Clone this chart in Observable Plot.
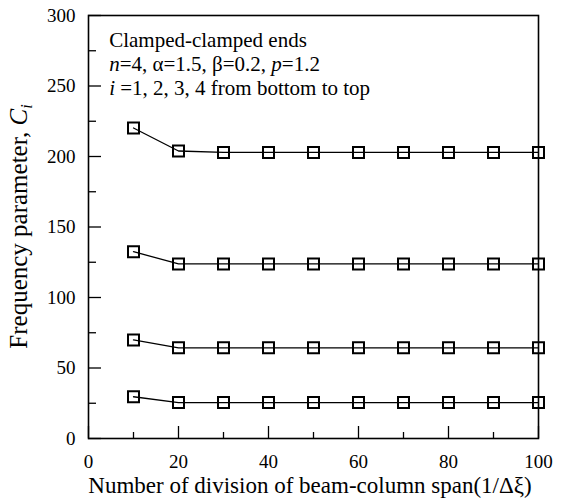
<!DOCTYPE html>
<html>
<head>
<meta charset="utf-8">
<script src="https://cdn.jsdelivr.net/npm/d3@7"></script>
<script src="https://cdn.jsdelivr.net/npm/@observablehq/plot@0.6"></script>
<style>
  html, body { margin: 0; padding: 0; background: #fff; }
  #chart { width: 563px; height: 501px; }
  svg { font-family: "Liberation Serif", "Times New Roman", serif; }
</style>
</head>
<body>
<div id="chart"></div>
<script>
// ---- data ----
const divisions = [10, 20, 30, 40, 50, 60, 70, 80, 90, 100];
const c1 = [29.6, 25.5, 25.5, 25.5, 25.5, 25.5, 25.5, 25.5, 25.5, 25.5];
const c2 = [69.9, 64.3, 64.3, 64.3, 64.3, 64.3, 64.3, 64.3, 64.3, 64.3];
const c3 = [132.5, 123.8, 123.8, 123.8, 123.8, 123.8, 123.8, 123.8, 123.8, 123.8];
const c4 = [220.2, 203.9, 202.9, 202.9, 202.9, 202.9, 202.9, 202.9, 202.9, 202.9];
const modes = ["i=1", "i=2", "i=3", "i=4"];
const xMajorTicks = [0, 20, 40, 60, 80, 100];
const xMinorTicks = [10, 30, 50, 70, 90];
const yMajorTicks = [0, 50, 100, 150, 200, 250, 300];
const yMinorTicks = [25, 75, 125, 175, 225, 275];

const series = [c1, c2, c3, c4];
const data = [];
series.forEach((vals, k) => {
  vals.forEach((v, j) => data.push({mode: modes[k], n: divisions[j], c: v}));
});

const font = "Liberation Serif, Times New Roman, serif";

const plot = Plot.plot({
  width: 563,
  height: 501,
  marginLeft: 88,
  marginRight: 25,
  marginTop: 15,
  marginBottom: 63,
  style: {fontFamily: font, fontSize: "19px", background: "#fff", color: "#000", overflow: "visible"},
  x: {domain: [0, 100]},
  y: {domain: [0, 300]},
  marks: [
    Plot.axisY(yMajorTicks, {anchor: "left", tickSize: -13, tickPadding: 26, label: null, fontSize: 19, strokeWidth: 1.3}),
    Plot.axisY(yMinorTicks, {anchor: "left", tickSize: -8, tickFormat: () => "", label: null, strokeWidth: 1.3}),
    Plot.axisX(xMajorTicks, {anchor: "bottom", tickSize: -12, tickPadding: 28, label: null, fontSize: 19, strokeWidth: 1.3}),
    Plot.axisX(xMinorTicks, {anchor: "bottom", tickSize: -6, tickFormat: () => "", label: null, strokeWidth: 1.3}),
    Plot.frame({stroke: "#000", strokeWidth: 1.6}),
    Plot.line(data, {x: "n", y: "c", z: "mode", stroke: "#000", strokeWidth: 1.3}),
    Plot.dot(data, {x: "n", y: "c", symbol: "square", r: 6.2, stroke: "#000", fill: "none", strokeWidth: 2})
  ]
});

document.getElementById("chart").appendChild(plot);

// ---- text annotations (mixed italic) ----
const svg = d3.select(plot);
const sx = plot.scale("x"), sy = plot.scale("y");

const annX = sx.apply(4.7);
const annY = sy.apply(277.3);
const lineGap = 24;
const annLines = [
  [["Clamped-clamped ends", false]],
  [["n", true], ["=4, \u03b1=1.5, \u03b2=0.2, ", false], ["p", true], ["=1.2", false]],
  [["i", true], [" =1, 2, 3, 4 from bottom to top", false]]
];
annLines.forEach((parts, k) => {
  const t = svg.append("text")
    .attr("x", annX).attr("y", annY + k * lineGap)
    .attr("text-anchor", "start")
    .attr("font-family", font).attr("font-size", 21).attr("fill", "#000");
  parts.forEach(([s, it]) => t.append("tspan").attr("font-style", it ? "italic" : "normal").text(s));
});

// y axis label
const yMid = (sy.apply(0) + sy.apply(300)) / 2;
const yl = svg.append("text")
  .attr("transform", `translate(27,${yMid}) rotate(-90)`)
  .attr("text-anchor", "middle")
  .attr("font-family", font).attr("font-size", 25).attr("fill", "#000");
yl.append("tspan").text("Frequency parameter, ");
yl.append("tspan").attr("font-style", "italic").text("C");
yl.append("tspan").attr("font-style", "italic").attr("font-size", 16).attr("dy", 5).text("i");

// x axis label
const xMid = (sx.apply(0) + sx.apply(100)) / 2 - 3;
svg.append("text")
  .attr("x", xMid).attr("y", 493)
  .attr("text-anchor", "middle")
  .attr("font-family", font).attr("font-size", 23).attr("fill", "#000")
  .text("Number of division of beam-column span(1/\u0394\u03be)");
</script>
</body>
</html>
